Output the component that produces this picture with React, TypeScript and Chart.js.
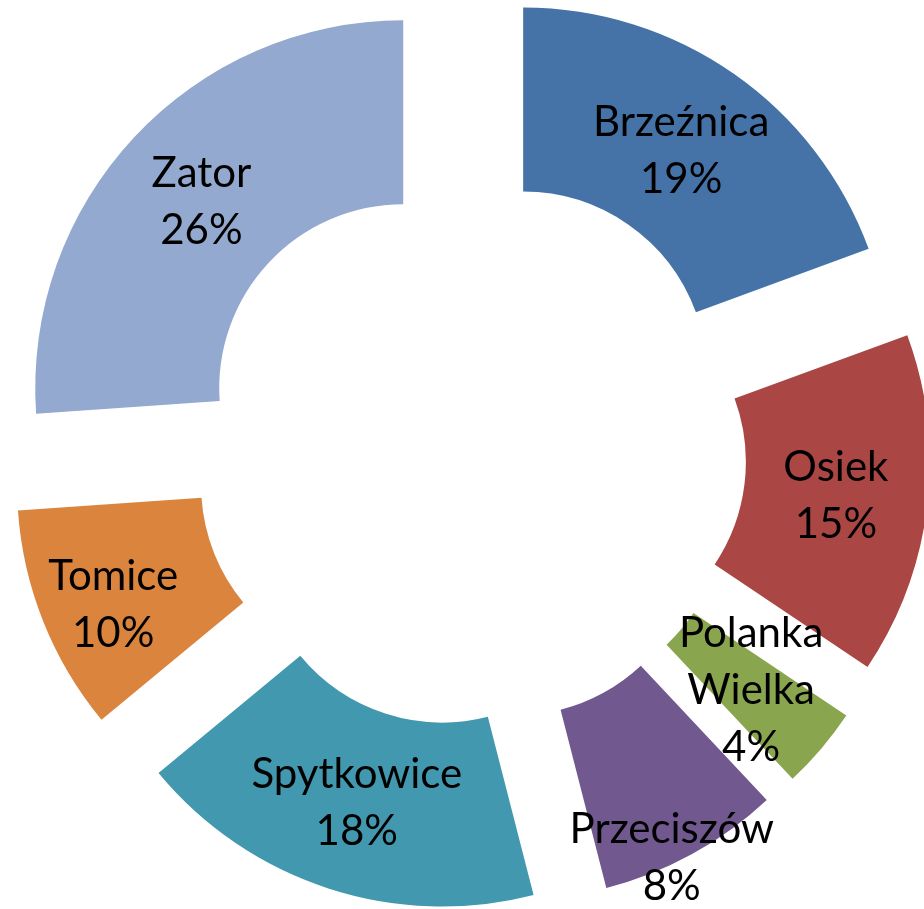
import React, { useEffect, useRef } from 'react';
import { Chart, registerables } from 'chart.js';

Chart.register(...registerables);

// ---- data ----
const categories = ['Brzeźnica', 'Osiek', 'Polanka Wielka', 'Przeciszów', 'Spytkowice', 'Tomice', 'Zator'];
const values = [19.4, 15.0, 3.6, 8.0, 18.0, 9.9, 26.1];
const percentLabels = ['19%', '15%', '4%', '8%', '18%', '10%', '26%'];
const labelLines = [['Brzeźnica'], ['Osiek'], ['Polanka', 'Wielka'], ['Przeciszów'], ['Spytkowice'], ['Tomice'], ['Zator']];
const colors = ['#4572A7', '#AA4643', '#89A54E', '#71588F', '#4198AF', '#DB843D', '#93A9CF'];

// ---- styling ----
const EXPLODE = 92;
const LABEL_PUSH = [0, 0, 0, 85, 0, 20, 0];
const LABEL_NUDGE: [number, number][] = [[0, 0], [0, 0], [0, 0], [-17, 8], [0, 0], [3, 8], [0, 0]];
const FONT_SIZE = 42;
const FONT = `${FONT_SIZE}px Lato, Calibri, Carlito, sans-serif`;
const CAP_H = FONT_SIZE * 0.72;
const LINE_H = 57;

const explodePlugin = {
  id: 'explodeDoughnut',
  beforeDatasetDraw(chart: any, args: any) {
    const ctx = chart.ctx;
    args.meta.data.forEach((arc: any) => {
      const mid = (arc.startAngle + arc.endAngle) / 2;
      ctx.save();
      ctx.translate(Math.cos(mid) * EXPLODE, Math.sin(mid) * EXPLODE);
      arc.draw(ctx);
      ctx.restore();
    });
    return false;
  },
  afterDatasetsDraw(chart: any) {
    const ctx = chart.ctx;
    const meta = chart.getDatasetMeta(0);
    ctx.save();
    ctx.font = FONT;
    ctx.fillStyle = '#000000';
    ctx.textAlign = 'center';
    ctx.textBaseline = 'alphabetic';
    meta.data.forEach((arc: any, i: number) => {
      const p = arc.getProps(['x', 'y', 'startAngle', 'endAngle', 'innerRadius', 'outerRadius'], true);
      const mid = (p.startAngle + p.endAngle) / 2;
      const rr = (p.innerRadius + p.outerRadius) / 2 + EXPLODE + LABEL_PUSH[i];
      const cx = p.x + Math.cos(mid) * rr + LABEL_NUDGE[i][0];
      const cy = p.y + Math.sin(mid) * rr + LABEL_NUDGE[i][1];
      const lines = [...labelLines[i], percentLabels[i]];
      const first = cy - ((lines.length - 1) * LINE_H) / 2 + CAP_H / 2;
      lines.forEach((t, k) => ctx.fillText(t, cx, first + k * LINE_H));
    });
    ctx.restore();
  },
};

export default function App() {
  const ref = useRef<HTMLCanvasElement | null>(null);
  useEffect(() => {
    if (!ref.current) return;
    const chart = new Chart(ref.current, {
      type: 'doughnut',
      data: {
        labels: categories,
        datasets: [
          {
            data: values,
            backgroundColor: colors,
            borderWidth: 0,
          },
        ],
      },
      options: {
        responsive: false,
        animation: false,
        radius: 368,
        cutout: '50%',
        layout: { padding: { left: 17, right: 0, top: 0, bottom: 7 } },
        plugins: {
          legend: { display: false },
          tooltip: { enabled: false },
        },
        events: [],
      } as any,
      plugins: [explodePlugin as any],
    });
    return () => chart.destroy();
  }, []);
  return (
    <div style={{ position: 'fixed', left: 0, top: 0, width: 924, height: 909, background: '#ffffff' }}>
      <canvas ref={ref} width={924} height={909} style={{ display: 'block' }} />
    </div>
  );
}
